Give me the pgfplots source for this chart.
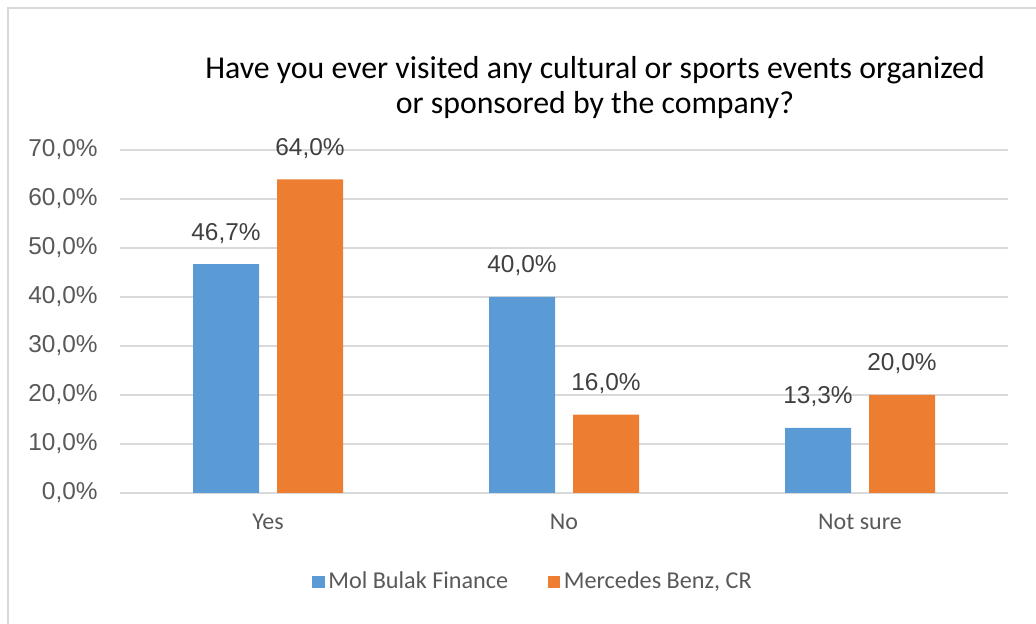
\documentclass[border=0pt]{standalone}
\usepackage{pgfplots}
\pgfplotsset{compat=1.18}
\usepackage{fontspec}
\setmainfont{Liberation Sans}
\newfontfamily\carlito{Carlito}

\definecolor{barblue}{HTML}{5B9BD5}
\definecolor{barorange}{HTML}{ED7D31}
\definecolor{txtgray}{HTML}{595959}
\definecolor{lblgray}{HTML}{404040}
\definecolor{gridgray}{HTML}{D9D9D9}

\begin{document}
\begin{tikzpicture}[x=0.5pt,y=0.5pt]
\useasboundingbox (0,0) rectangle (1036,624);
% frame (only top and left edges are visible)
\draw[gridgray, line width=1pt] (8,0) -- (8,616) -- (1036,616);

% title
\node[anchor=base, font=\carlito\fontsize{15.9}{19}\selectfont] at (595,545)
  {Have you ever visited any cultural or sports events organized};
\node[anchor=base, font=\carlito\fontsize{15.9}{19}\selectfont] at (595,510)
  {or sponsored by the company?};

\begin{axis}[
    at={(60pt,65.5pt)}, anchor=south west,
    scale only axis, width=444pt, height=171.5pt,
    ybar=9pt, bar width=33pt,
    xmin=-0.5, xmax=2.5,
    ymin=0, ymax=70,
    xtick={0,1,2},
    xticklabels={Yes, No, Not sure},
    ytick={0,10,...,70},
    ymajorgrids, major grid style={gridgray, line width=1pt},
    axis line style={draw=none},
    major tick length=0pt,
    /pgf/number format/.cd, fixed, fixed zerofill, precision=1, use comma, assume math mode=true,
    /pgfplots/.cd,
    yticklabel={\pgfmathprintnumber{\tick}\%},
    yticklabel style={anchor=east, inner sep=0pt, xshift=-11pt, text=txtgray,
      font=\fontsize{12.2}{14}\selectfont},
    xticklabel style={anchor=base, inner sep=0pt, yshift=-18.5pt, text=txtgray,
      font=\carlito\fontsize{12}{14}\selectfont},
    nodes near coords={\pgfmathprintnumber{\pgfplotspointmeta}\%},
    every node near coord/.append style={anchor=base, inner sep=0pt, yshift=12pt,
      text=lblgray, font=\fontsize{12.2}{14}\selectfont},
    legend columns=2,
    legend style={draw=none, at={(0.466,-0.259)}, anchor=center,
      font=\carlito\fontsize{12.1}{14}\selectfont, text=txtgray,
      /tikz/every even column/.append style={column sep=18pt},
      nodes={inner sep=1.8pt}},
    legend image code/.code={\fill[#1] (0pt,-3.1pt) rectangle (6.2pt,3.1pt);},
]
\addplot[draw=none, fill=barblue] coordinates {(0,46.7) (1,40.0) (2,13.3)};
\addplot[draw=none, fill=barorange] coordinates {(0,64.0) (1,16.0) (2,20.0)};
\legend{Mol Bulak Finance, Mercedes Benz{,} CR}
\end{axis}
\end{tikzpicture}
\end{document}
